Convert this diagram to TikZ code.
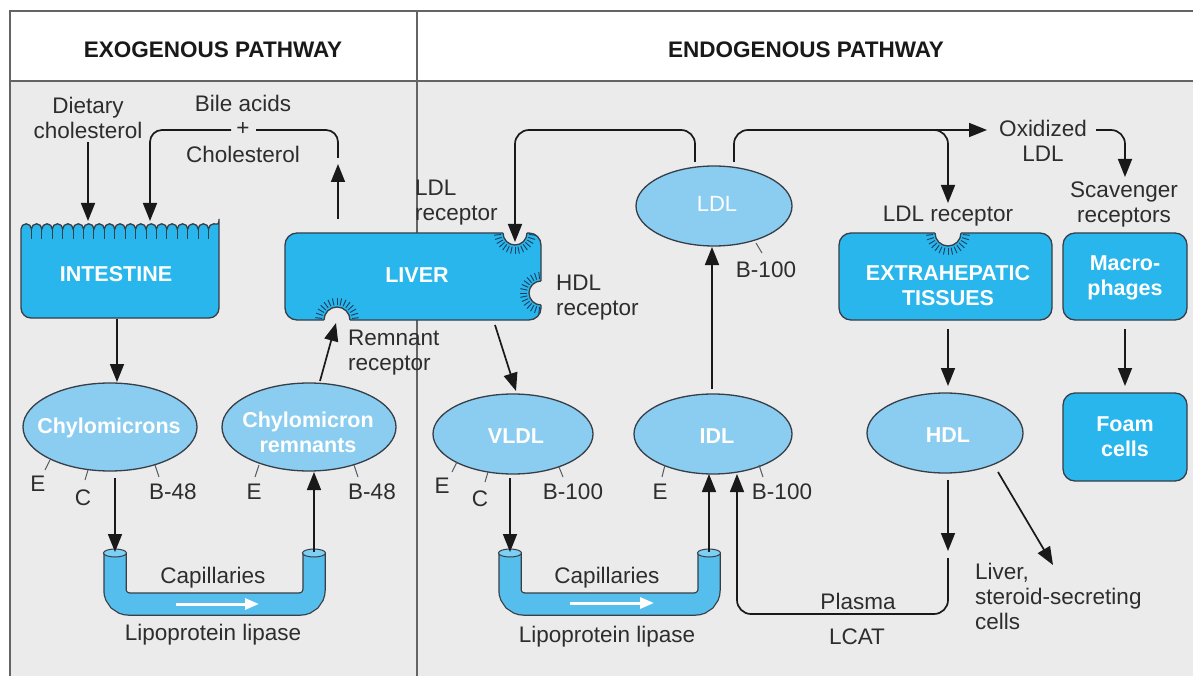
\documentclass[tikz,border=0pt]{standalone}
\usepackage{fontspec}
\setmainfont{Liberation Sans}
\usetikzlibrary{arrows.meta,shapes.geometric}
\definecolor{bg}{RGB}{235,235,235}
\definecolor{boxc}{RGB}{40,182,236}
\definecolor{ellc}{RGB}{138,205,240}
\definecolor{tubec}{RGB}{86,190,236}
\definecolor{tubetop}{RGB}{125,207,243}
\definecolor{edge}{RGB}{55,62,70}
\definecolor{txt}{RGB}{45,45,45}
\definecolor{rulec}{RGB}{100,100,100}
\definecolor{tickc}{RGB}{25,60,95}
\definecolor{arrc}{RGB}{25,25,25}
\newcommand\rnotch[4]{%
  \fill[bg] (#1,#2) circle[radius=#3];
  \draw[draw=edge,line width=1.3pt,shift={(#1,#2)}] (#4:#3) arc[start angle=#4,end angle={#4+180},radius=#3];
  \foreach \k in {0,...,14}{\draw[tk,shift={(#1,#2)}] ({#4+6+\k*12}:{#3+2}) -- ({#4+6+\k*12}:{#3+9});}
}
\newcommand\captube[3]{%
  \draw[line width=23.5pt,draw=edge,rounded corners=14] (#1,#3) -- (#1,604) -- (#2,604) -- (#2,#3);
  \draw[line width=21pt,draw=tubec,rounded corners=14] (#1,#3) -- (#1,604) -- (#2,604) -- (#2,#3);
  \draw[fill=tubetop,draw=edge,line width=1pt] (#1,#3) ellipse[x radius=11.5,y radius=4];
  \draw[fill=tubetop,draw=edge,line width=1pt] (#2,#3) ellipse[x radius=11.5,y radius=4];
}
\begin{document}
\begin{tikzpicture}[x=1pt,y=-1pt,
  lbl/.style={text=txt,font=\fontsize{22.5}{25}\selectfont,align=center,inner sep=0pt},
  lbll/.style={lbl,align=left},
  hdr/.style={text=black!90,font=\bfseries\fontsize{22.5}{25}\selectfont,inner sep=0pt},
  wlbl/.style={text=white,font=\bfseries\fontsize{21.5}{25}\selectfont,align=center,inner sep=0pt},
  ell/.style={ellipse,draw=edge,line width=1.3pt,fill=ellc,inner sep=0pt},
  cellbox/.style={draw=edge,line width=1.3pt,fill=boxc,rounded corners=12},
  arr/.style={draw=arrc,line width=1.7pt,-{Triangle[length=18pt,width=14pt]}},
  ln/.style={draw=arrc,line width=1.7pt},
  apo/.style={draw=edge!85,line width=1pt},
  tk/.style={draw=tickc,line width=0.9pt},
  warr/.style={draw=white,line width=3pt,-{Triangle[length=14pt,width=11pt]}},
]
\useasboundingbox (0,0) rectangle (1193,676);
% frame
\fill[white] (0,0) rectangle (1193,676);
\fill[bg] (10,81) rectangle (1193,676);
\draw[rulec,line width=2pt] (10,676) -- (10,11) -- (1193,11);
\draw[rulec,line width=2pt] (10,81) -- (1193,81);
\draw[rulec,line width=2pt] (417,11) -- (417,676);
\node[hdr,anchor=base] (exo) at (213,58) {EXOGENOUS PATHWAY};
\node[hdr,anchor=base] (endo) at (806,58) {ENDOGENOUS PATHWAY};

% intestine
\draw[cellbox,rounded corners=0] (21,229) [rounded corners=10] -- (21,318) -- (219,318) -- (219,229) [sharp corners]
  \foreach \i in {1,...,19}{ arc[start angle=0,end angle=-180,radius=5.2105] } -- cycle;
\foreach \i in {1,...,18} \draw[draw=edge,line width=0.9pt] ({21+\i*10.421},227) -- ++(0,12);
\node[wlbl,anchor=base] (intestine) at (116,281) {INTESTINE};

% liver
\draw[cellbox] (285,233) rectangle (541,320);
\rnotch{515}{233}{12}{0}
\rnotch{541}{293}{12}{90}
\rnotch{337}{320}{13}{180}
\node[wlbl,anchor=base] (liver) at (417,283) {LIVER};

% extrahepatic
\draw[cellbox] (839,233) rectangle (1052,320);
\rnotch{948}{233}{13}{0}
\node[wlbl,anchor=north] (extra) at (948,265) {EXTRAHEPATIC\\TISSUES};

% macrophages, foam cells
\node[cellbox,minimum width=124pt,minimum height=87pt] (macro) at (1125,276.5) {};
\node[wlbl,anchor=north] (macrot) at (1125,256) {Macro-\\phages};
\node[cellbox,minimum width=124pt,minimum height=88pt] (foam) at (1125,437) {};
\node[wlbl,anchor=north] (foamt) at (1125,417) {Foam\\cells};

% ellipses
\node[ell,minimum width=174pt,minimum height=88pt] (chylo) at (110,427) {};
\node[wlbl,anchor=base] (chylot) at (109,433) {Chylomicrons};
\node[ell,minimum width=174pt,minimum height=88pt] (remn) at (309,427) {};
\node[wlbl,anchor=north] (remnt) at (308,412) {Chylomicron\\remnants};
\node[ell,minimum width=160pt,minimum height=80pt] (vldl) at (513,434) {};
\node[wlbl,anchor=base] (vldlt) at (516,443) {VLDL};
\node[ell,minimum width=158pt,minimum height=80pt] (idl) at (713,434) {};
\node[wlbl,anchor=base] (idlt) at (717,443) {IDL};
\node[ell,minimum width=156pt,minimum height=80pt] (ldl) at (714,206) {};
\node[wlbl,anchor=base,font=\fontsize{22}{25}\selectfont] (ldlt) at (717,212) {LDL};
\node[ell,minimum width=156pt,minimum height=80pt] (hdl) at (945,433) {};
\node[wlbl,anchor=base] (hdlt) at (948,442) {HDL};

% apoprotein ticks and labels
\draw[apo] (50,460) -- (45,470);  \draw[apo] (88,470) -- (85,480);  \draw[apo] (155,465) -- (159,477);
\draw[apo] (259,465) -- (255,477); \draw[apo] (354,465) -- (358,477);
\draw[apo] (457,462) -- (452,472); \draw[apo] (488,472) -- (485,482); \draw[apo] (559,467) -- (563,477);
\draw[apo] (665,465) -- (662,477); \draw[apo] (759,465) -- (763,477);
\draw[apo] (756,243) -- (762,253);
\node[lbl,anchor=base] (chE) at (38,491) {E};
\node[lbl,anchor=base] (chC) at (83,505) {C};
\node[lbl,anchor=base] (chB) at (173,499) {B-48};
\node[lbl,anchor=base] (reE) at (254,499) {E};
\node[lbl,anchor=base] (reB) at (372,499) {B-48};
\node[lbl,anchor=base] (vlE) at (442,493) {E};
\node[lbl,anchor=base] (vlC) at (480,506) {C};
\node[lbl,anchor=base] (vlB) at (573,499) {B-100};
\node[lbl,anchor=base] (idE) at (660,499) {E};
\node[lbl,anchor=base] (idB) at (782,499) {B-100};
\node[lbl,anchor=base] (ldB) at (766,277) {B-100};

% capillaries
\captube{115}{314}{553}
\captube{510}{709}{553}
\coordinate (wa1) at (176,604); \coordinate (wb1) at (259,604);
\coordinate (wa2) at (570,603); \coordinate (wb2) at (654,603);
\draw[warr] (wa1) -- (wb1);
\draw[warr] (wa2) -- (wb2);
\node[lbl,anchor=base] (cap1) at (213,583) {Capillaries};
\node[lbl,anchor=base] (lpl1) at (213,640) {Lipoprotein lipase};
\node[lbl,anchor=base] (cap2) at (607,583) {Capillaries};
\node[lbl,anchor=base] (lpl2) at (607,642) {Lipoprotein lipase};

% other labels
\node[lbl,anchor=north] (diet) at (88,97) {Dietary\\cholesterol};
\node[lbl,anchor=base] (bile) at (243,112) {Bile acids};
\node[lbl] (plus) at (243,129) {+};
\node[lbl,anchor=base] (chol) at (243,163) {Cholesterol};
\node[lbll,anchor=north west] (ldlrec) at (415,180) {LDL\\receptor};
\node[lbll,anchor=north west] (hdlrec) at (556,275) {HDL\\receptor};
\node[lbll,anchor=north west] (remrec) at (348,330) {Remnant\\receptor};
\node[lbl,anchor=base] (ldlrec2) at (948,222) {LDL receptor};
\node[lbl,anchor=north] (scav) at (1124,182) {Scavenger\\receptors};
\node[lbl,anchor=north] (oxldl) at (1043,120) {Oxidized\\LDL};
\node[lbl,anchor=base] (plasma) at (858,609) {Plasma};
\node[lbl,anchor=base] (lcat) at (857,644) {LCAT};
\node[lbll,anchor=north west] (livcells) at (975,563) {Liver,\\steroid-secreting\\cells};

% connector end points
\coordinate (dietS) at (88,142);   \coordinate (intN1) at (88,221);
\coordinate (bileR) at (338,158);  \coordinate (bileRe) at (256,130);
\coordinate (bileLs) at (231,130); \coordinate (intN2) at (150,221);
\coordinate (livN) at (338,219);   \coordinate (livUp) at (338,164);
\coordinate (intS) at (117,319);   \coordinate (chyN) at (117,382);
\coordinate (chyS) at (115,478);   \coordinate (tubeA) at (115,552);
\coordinate (tubeB) at (314,552);  \coordinate (remS) at (314,472);
\coordinate (remN) at (320,381);   \coordinate (livRem) at (336,323);
\coordinate (livS) at (495,325);   \coordinate (vldlN) at (516,391);
\coordinate (vldlS) at (510,478);  \coordinate (tubeC) at (510,552);
\coordinate (tubeD) at (709,552);  \coordinate (idlS) at (709,474);
\coordinate (idlN) at (712,389);   \coordinate (ldlS) at (712,247);
\coordinate (ldlNL) at (695,162);  \coordinate (livLDL) at (515,242);
\coordinate (ldlNR) at (734,162);  \coordinate (oxW) at (987,130);
\coordinate (brS) at (918,130);    \coordinate (extLDL) at (948,203);
\coordinate (oxE) at (1096,130);   \coordinate (scavN) at (1125,177);
\coordinate (extS) at (948,329);   \coordinate (hdlN) at (948,386);
\coordinate (macS) at (1125,329);  \coordinate (foamN) at (1125,386);
\coordinate (hdlS) at (948,480);   \coordinate (plN) at (948,551);
\coordinate (lcS) at (948,558);    \coordinate (lcC) at (737,614);
\coordinate (idlS2) at (737,474);
\coordinate (hdlSE) at (998,472);  \coordinate (livC) at (1053,565);

% connectors
\draw[arr] (dietS) -- (intN1);
\draw[ln,rounded corners=12] (bileR) |- (bileRe);
\draw[arr,rounded corners=12] (bileLs) -| (intN2);
\draw[arr] (livN) -- (livUp);
\draw[arr] (intS) -- (chyN);
\draw[arr] (chyS) -- (tubeA);
\draw[arr] (tubeB) -- (remS);
\draw[arr] (remN) -- (livRem);
\draw[arr] (livS) -- (vldlN);
\draw[arr] (vldlS) -- (tubeC);
\draw[arr] (tubeD) -- (idlS);
\draw[arr] (idlN) -- (ldlS);
\draw[arr,rounded corners=14] (ldlNL) -- ++(0,-32) -| (livLDL);
\draw[arr,rounded corners=14] (ldlNR) -- ++(0,-32) -- (oxW);
\draw[arr,rounded corners=14] (brS) -| (extLDL);
\draw[arr,rounded corners=14] (oxE) -| (scavN);
\draw[arr] (extS) -- (hdlN);
\draw[arr] (macS) -- (foamN);
\draw[arr] (hdlS) -- (plN);
\draw[arr,rounded corners=14] (lcS) |- (lcC) -- (idlS2);
\draw[arr] (hdlSE) -- (livC);
\end{tikzpicture}
\end{document}
